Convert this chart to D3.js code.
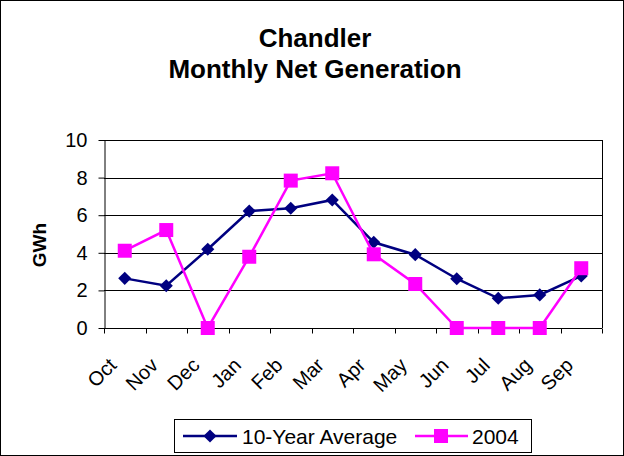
<!DOCTYPE html>
<html>
<head>
<meta charset="utf-8">
<script src="https://cdn.jsdelivr.net/npm/d3@7"></script>
<style>
  body { margin: 0; background: #fff; }
  svg text { font-family: Arial, "Liberation Sans", sans-serif; fill: #000; }
</style>
</head>
<body>
<svg id="chart" width="624" height="456"></svg>
<script>
const months = ["Oct", "Nov", "Dec", "Jan", "Feb", "Mar", "Apr", "May", "Jun", "Jul", "Aug", "Sep"];
const avgValues = [2.64, 2.25, 4.19, 6.22, 6.37, 6.81, 4.56, 3.9, 2.62, 1.58, 1.76, 2.77];
const values2004 = [4.11, 5.21, 0, 3.79, 7.84, 8.23, 3.92, 2.34, 0, 0, 0, 3.18];
const yTicks = [0, 2, 4, 6, 8, 10];

const svg = d3.select("#chart");
const width = 624, height = 456;
const margin = { top: 140, right: 22, bottom: 128, left: 104 };

svg.append("rect")
  .attr("x", 0.5).attr("y", 0.5)
  .attr("width", width - 1).attr("height", height - 1)
  .attr("fill", "#fff").attr("stroke", "#000");

// title
svg.append("text").attr("x", 315).attr("y", 47)
  .attr("text-anchor", "middle").attr("font-size", 26).attr("font-weight", "bold")
  .text("Chandler");
svg.append("text").attr("x", 315).attr("y", 78)
  .attr("text-anchor", "middle").attr("font-size", 26).attr("font-weight", "bold")
  .text("Monthly Net Generation");

const x = d3.scaleBand().domain(months).range([margin.left, width - margin.right]);
const y = d3.scaleLinear().domain([0, 10]).range([height - margin.bottom, margin.top]);

// gridlines
svg.append("g")
  .selectAll("line")
  .data(yTicks.filter((d) => d > 0))
  .join("line")
  .attr("x1", margin.left).attr("x2", width - margin.right)
  .attr("y1", (d) => Math.round(y(d)) + 0.5).attr("y2", (d) => Math.round(y(d)) + 0.5)
  .attr("stroke", "#000").attr("stroke-width", 1);

// right border of plot area
svg.append("line")
  .attr("x1", width - margin.right + 0.5).attr("x2", width - margin.right + 0.5)
  .attr("y1", margin.top).attr("y2", height - margin.bottom)
  .attr("stroke", "#000");

// y axis
const yAxis = svg.append("g")
  .attr("transform", `translate(${margin.left + 0.5},0)`)
  .call(d3.axisLeft(y).tickValues(yTicks).tickSize(6).tickPadding(11).tickSizeOuter(0).tickFormat(d3.format("d")));
yAxis.select(".domain").attr("stroke", "#000");
yAxis.selectAll("text").attr("font-size", 20).attr("font-family", "Arial, 'Liberation Sans', sans-serif");

// x axis with ticks at band boundaries
const xg = svg.append("g").attr("transform", `translate(0,${Math.round(y(0)) + 0.5})`);
xg.append("line")
  .attr("x1", margin.left).attr("x2", width - margin.right)
  .attr("stroke", "#000");
xg.selectAll("line.tick")
  .data(d3.range(months.length + 1))
  .join("line")
  .attr("class", "tick")
  .attr("x1", (i) => Math.round(margin.left + i * x.bandwidth()) + 0.5)
  .attr("x2", (i) => Math.round(margin.left + i * x.bandwidth()) + 0.5)
  .attr("y1", 0).attr("y2", 5)
  .attr("stroke", "#000");
xg.selectAll("text")
  .data(months)
  .join("text")
  .attr("transform", (d) => `translate(${x(d) + x.bandwidth() / 2 - 7},${38}) rotate(-45)`)
  .attr("text-anchor", "end")
  .attr("font-size", 20)
  .text((d) => d);

// y label
svg.append("text")
  .attr("transform", `translate(46,245) rotate(-90)`)
  .attr("text-anchor", "middle")
  .attr("font-size", 19).attr("font-weight", "bold")
  .text("GWh");

const cx = (i) => x(months[i]) + x.bandwidth() / 2;
const line = d3.line().x((d, i) => cx(i)).y((d) => y(d));

const diamond = d3.symbol().type(d3.symbolDiamond2).size(110);

// 10-year average
svg.append("path").datum(avgValues)
  .attr("d", line).attr("fill", "none")
  .attr("stroke", "#000080").attr("stroke-width", 2.5);
svg.append("g").selectAll("path")
  .data(avgValues)
  .join("path")
  .attr("transform", (d, i) => `translate(${cx(i)},${y(d)})`)
  .attr("d", diamond)
  .attr("fill", "#000080");

// 2004
svg.append("path").datum(values2004)
  .attr("d", line).attr("fill", "none")
  .attr("stroke", "#ff00ff").attr("stroke-width", 2.5);
svg.append("g").selectAll("rect")
  .data(values2004)
  .join("rect")
  .attr("x", (d, i) => cx(i) - 7).attr("y", (d) => y(d) - 7)
  .attr("width", 14).attr("height", 14)
  .attr("fill", "#ff00ff");

// legend
const lg = svg.append("g");
lg.append("rect")
  .attr("x", 174.5).attr("y", 419.5).attr("width", 357).attr("height", 33)
  .attr("fill", "#fff").attr("stroke", "#000");
lg.append("line").attr("x1", 183).attr("x2", 237).attr("y1", 436).attr("y2", 436)
  .attr("stroke", "#000080").attr("stroke-width", 2.5);
lg.append("path").attr("transform", "translate(210,436)").attr("d", diamond).attr("fill", "#000080");
lg.append("text").attr("x", 242).attr("y", 444).attr("font-size", 21).text("10-Year Average");
lg.append("line").attr("x1", 415).attr("x2", 468).attr("y1", 436).attr("y2", 436)
  .attr("stroke", "#ff00ff").attr("stroke-width", 2.5);
lg.append("rect").attr("x", 434).attr("y", 429).attr("width", 14).attr("height", 14).attr("fill", "#ff00ff");
lg.append("text").attr("x", 472).attr("y", 444).attr("font-size", 21).text("2004");
</script>
</body>
</html>
